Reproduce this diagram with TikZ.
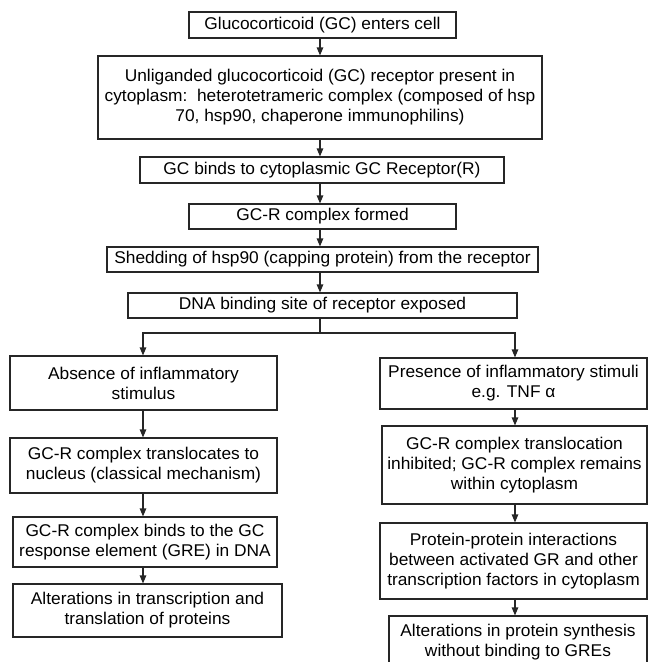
\documentclass[tikz,border=0pt]{standalone}
\usepackage{fontspec}
\setmainfont{Liberation Sans}[FakeStretch=1.02]
\usetikzlibrary{arrows.meta,calc}
\tikzset{
  box/.style={draw=black!85, line width=1.1pt, inner sep=0pt, align=center,
    font=\fontsize{17}{20}\selectfont},
  arr/.style={draw=black!85, line width=1.1pt, -{Triangle[length=8pt,width=6.5pt]}},
  ln/.style={draw=black!85, line width=1.1pt}
}
\begin{document}
\begin{tikzpicture}[x=1pt,y=-1pt]
\useasboundingbox (0,0) rectangle (649,662);
\coordinate (cx) at (320,0);
\coordinate (lx) at (143,0);
\coordinate (rx) at (515,0);
\coordinate (j) at (320,333);
% central column
\node[box, minimum width=267pt, minimum height=26pt] (n1) at (322.5,25) {Glucocorticoid (GC) enters cell};
\node[box, minimum width=444pt, minimum height=83pt] (n2) at (320,97.5) {Unliganded glucocorticoid (GC) receptor present in\\cytoplasm:\ \ heterotetrameric complex (composed of hsp\\70, hsp90, chaperone immunophilins)};
\node[box, minimum width=364pt, minimum height=26pt] (n3) at (322,170) {GC binds to cytoplasmic GC Receptor(R)};
\node[box, minimum width=267pt, minimum height=25pt] (n4) at (322.5,216.5) {GC-R complex formed};
\node[box, minimum width=431pt, minimum height=25pt] (n5) at (322.5,259.5) {Shedding of hsp90 (capping protein) from the receptor};
\node[box, minimum width=389pt, minimum height=25pt] (n6) at (322.5,305.5) {DNA binding site of receptor exposed};
% left column
\node[box, minimum width=267pt, minimum height=54pt] (a) at (143.5,383) {Absence of inflammatory\\stimulus};
\node[box, minimum width=267pt, minimum height=55pt] (c) at (143.5,465.5) {GC-R complex translocates to\\nucleus (classical mechanism)};
\node[box, minimum width=264pt, minimum height=50pt] (e) at (145,542) {GC-R complex binds to the GC\\response element (GRE) in DNA};
\node[box, minimum width=269pt, minimum height=53pt] (f) at (147.5,610.5) {Alterations in transcription and\\translation of proteins};
% right column
\node[box, minimum width=267pt, minimum height=51pt] (b) at (513.5,383.5) {Presence of inflammatory stimuli\\e.g. TNF α};
\node[box, minimum width=265pt, minimum height=78pt] (d) at (514.5,465) {GC-R complex translocation\\inhibited; GC-R complex remains\\within cytoplasm};
\node[box, minimum width=267pt, minimum height=76pt] (g) at (513.5,561) {Protein-protein interactions\\between activated GR and other\\transcription factors in cytoplasm};
\node[box, minimum width=258pt, minimum height=52pt] (h) at (518,642) {Alterations in protein synthesis\\without binding to GREs};
% connectors
\draw[arr] (n1.south -| cx) -- (n2.north -| cx);
\draw[arr] (n2.south -| cx) -- (n3.north -| cx);
\draw[arr] (n3.south -| cx) -- (n4.north -| cx);
\draw[arr] (n4.south -| cx) -- (n5.north -| cx);
\draw[arr] (n5.south -| cx) -- (n6.north -| cx);
\draw[ln] (n6.south -| cx) -- (j);
\draw[arr] (j) -| (a.north -| lx);
\draw[arr] (j) -| (b.north -| rx);
\draw[arr] (a.south -| lx) -- (c.north -| lx);
\draw[arr] (c.south -| lx) -- (e.north -| lx);
\draw[arr] (e.south -| lx) -- (f.north -| lx);
\draw[arr] (b.south -| rx) -- (d.north -| rx);
\draw[arr] (d.south -| rx) -- (g.north -| rx);
\draw[arr] (g.south -| rx) -- (h.north -| rx);
\end{tikzpicture}
\end{document}
